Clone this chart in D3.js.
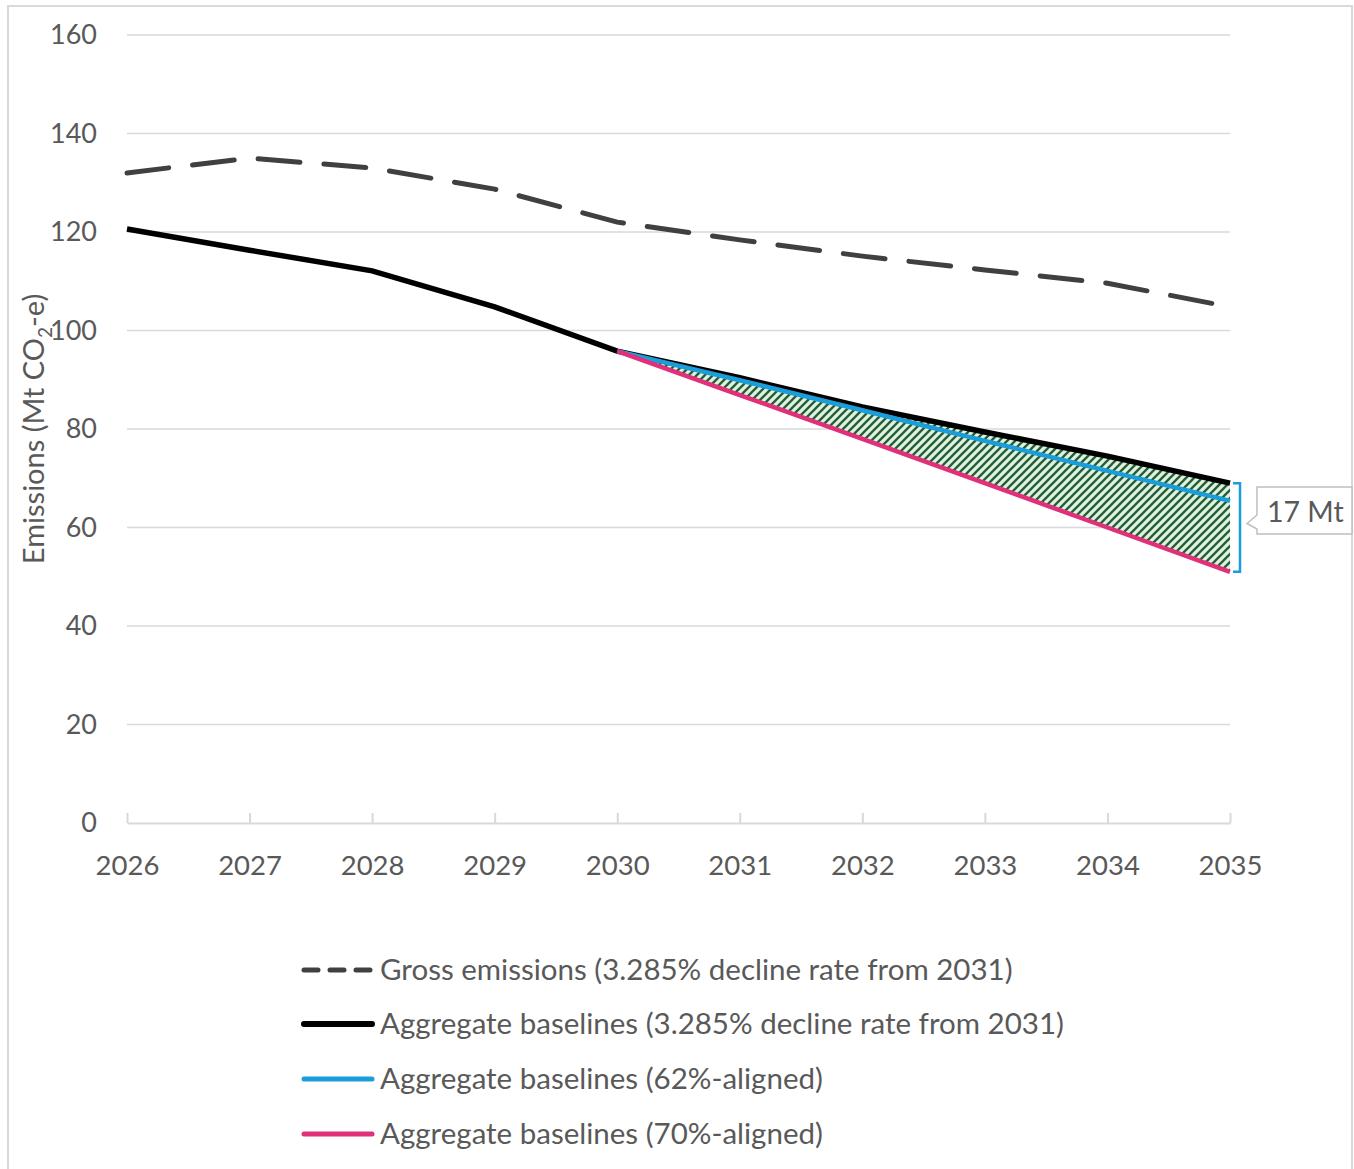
<html>
<head>
    <meta charset="utf-8">
    <title>Emissions</title>
    <script src="https://d3js.org/d3.v7.min.js"></script>
    <style>
        body { margin: 0; background: #fff; }
        text { font-family: Lato, "Open Sans", sans-serif; fill: #595959; }
    </style>
</head>
<body>
<script>
    // data
    var years = [2026, 2027, 2028, 2029, 2030, 2031, 2032, 2033, 2034, 2035];
    var gross = [132.0, 135.0, 133.0, 128.7, 122.0, 118.4, 115.1, 112.3, 109.6, 104.8];
    var baseline = [120.6, 116.3, 112.1, 104.8, 95.8, 90.4, 84.5, 79.4, 74.5, 69.0];
    var aligned62Years = [2030, 2031, 2032, 2033, 2034, 2035];
    var aligned62 = [95.8, 89.9, 83.8, 77.6, 71.5, 65.4];
    var aligned70Years = [2030, 2031, 2032, 2033, 2034, 2035];
    var aligned70 = [95.8, 86.9, 78.0, 69.0, 60.0, 51.0];
    var yTicks = [0, 20, 40, 60, 80, 100, 120, 140, 160];
    var gapLabel = "17 Mt";
    var legendLabels = [
        "Gross emissions (3.285% decline rate from 2031)",
        "Aggregate baselines (3.285% decline rate from 2031)",
        "Aggregate baselines (62%-aligned)",
        "Aggregate baselines (70%-aligned)"
    ];

    var width = 1354,
        height = 1169,
        gridColor = "#d9d9d9",
        grossColor = "#404040",
        baseColor = "#000000",
        blueColor = "#1b9dd9",
        pinkColor = "#e0307a";

    var svg = d3.select("body").append("svg")
        .attr("width", width)
        .attr("height", height);

    // outer frame
    svg.append("rect")
        .attr("x", 8).attr("y", 6)
        .attr("width", 1344).attr("height", 1180)
        .attr("fill", "none")
        .attr("stroke", gridColor)
        .attr("stroke-width", 2);

    var x = d3.scaleLinear().domain([2026, 2035]).range([127, 1230]);
    var y = d3.scaleLinear().domain([0, 160]).range([823, 35]);

    // hatch pattern
    var pat = svg.append("defs").append("pattern")
        .attr("id", "hatch")
        .attr("patternUnits", "userSpaceOnUse")
        .attr("width", 8).attr("height", 8);
    pat.append("rect").attr("width", 8).attr("height", 8).attr("fill", "#e0f0e2");
    pat.append("path")
        .attr("d", "M-2,2 L2,-2 M0,8 L8,0 M6,10 L10,6")
        .attr("stroke", "#225f34")
        .attr("stroke-width", 2.3);

    // gridlines
    svg.append("g").selectAll("line")
        .data(yTicks.filter(function (d) { return d > 0; }))
        .enter().append("line")
        .attr("x1", 127).attr("x2", 1230)
        .attr("y1", function (d) { return y(d); })
        .attr("y2", function (d) { return y(d); })
        .attr("stroke", gridColor)
        .attr("stroke-width", 1.5);

    // y axis labels
    var yAxis = svg.append("g")
        .attr("transform", "translate(97,0)")
        .call(d3.axisLeft(y).tickValues(yTicks).tickSize(0).tickPadding(0));
    yAxis.select(".domain").remove();
    yAxis.selectAll("text")
        .style("font-size", "27px")
        .style("font-family", "Lato, sans-serif")
        .attr("fill", "#595959");

    // x axis
    var xAxis = svg.append("g")
        .attr("transform", "translate(0," + y(0) + ")")
        .call(d3.axisBottom(x).tickValues(years).tickFormat(d3.format("d"))
            .tickSizeInner(-10).tickSizeOuter(0).tickPadding(32));
    xAxis.select(".domain").attr("stroke", gridColor).attr("stroke-width", 2);
    xAxis.selectAll(".tick line").attr("stroke", gridColor).attr("stroke-width", 2);
    xAxis.selectAll("text")
        .style("font-size", "27.5px")
        .style("font-family", "Lato, sans-serif")
        .attr("fill", "#595959");

    // y title
    var yTitle = svg.append("text")
        .attr("transform", "translate(44,429) rotate(-90)")
        .attr("text-anchor", "middle")
        .style("font-size", "29px");
    yTitle.append("tspan").text("Emissions (Mt CO");
    yTitle.append("tspan").text("2").style("font-size", "19px").attr("dy", 8);
    yTitle.append("tspan").text("-e)").attr("dy", -8);

    // shaded gap between baseline and 70%-aligned
    var gapData = aligned70Years.map(function (yr, i) {
        return { year: yr, lo: aligned70[i], hi: baseline[years.indexOf(yr)] };
    });
    svg.append("path")
        .datum(gapData)
        .attr("fill", "url(#hatch)")
        .attr("d", d3.area()
            .x(function (d) { return x(d.year); })
            .y0(function (d) { return y(d.lo); })
            .y1(function (d) { return y(d.hi); }));

    var line = d3.line()
        .x(function (d) { return x(d[0]); })
        .y(function (d) { return y(d[1]); });

    svg.append("path")
        .datum(d3.zip(years, gross))
        .attr("d", line)
        .attr("fill", "none")
        .attr("stroke", grossColor)
        .attr("stroke-width", 5)
        .attr("stroke-linecap", "round")
        .attr("stroke-dasharray", "42,24");

    svg.append("path")
        .datum(d3.zip(years, baseline))
        .attr("d", line)
        .attr("fill", "none")
        .attr("stroke", baseColor)
        .attr("stroke-width", 5.5);

    svg.append("path")
        .datum(d3.zip(aligned62Years, aligned62))
        .attr("d", line)
        .attr("fill", "none")
        .attr("stroke", blueColor)
        .attr("stroke-width", 4.5);

    svg.append("path")
        .datum(d3.zip(aligned70Years, aligned70))
        .attr("d", line)
        .attr("fill", "none")
        .attr("stroke", pinkColor)
        .attr("stroke-width", 4.5);

    // bracket for the gap
    var bx = x(2035) + 10,
        bTop = y(baseline[baseline.length - 1]),
        bBot = y(aligned70[aligned70.length - 1]);
    svg.append("path")
        .attr("d", "M" + (bx - 7) + "," + bTop + " H" + bx + " V" + bBot + " H" + (bx - 7))
        .attr("fill", "none")
        .attr("stroke", blueColor)
        .attr("stroke-width", 2.5);

    // callout
    var cy = (bTop + bBot) / 2;
    svg.append("path")
        .attr("d", "M1257,487 H1352 V534 H1257 V529 L1247," + (cy - 4) + " L1257,515 Z")
        .attr("fill", "#fff")
        .attr("stroke", "#bfbfbf")
        .attr("stroke-width", 1.5);
    svg.append("text")
        .attr("x", 1267).attr("y", 522)
        .style("font-size", "28.5px")
        .text(gapLabel);

    // legend
    var legend = svg.append("g").selectAll("g")
        .data(legendLabels)
        .enter().append("g")
        .attr("transform", function (d, i) { return "translate(0," + [970, 1024, 1079, 1134][i] + ")"; });
    var legendStyles = [
        { c: grossColor, dash: "14,12" },
        { c: baseColor, dash: null },
        { c: blueColor, dash: null },
        { c: pinkColor, dash: null }
    ];
    legend.append("line")
        .attr("x1", 304).attr("x2", 372)
        .attr("stroke", function (d, i) { return legendStyles[i].c; })
        .attr("stroke-width", function (d, i) { return i === 1 ? 6 : 5; })
        .attr("stroke-linecap", "round")
        .attr("stroke-dasharray", function (d, i) { return legendStyles[i].dash; });
    legend.append("text")
        .attr("x", 380).attr("dy", "0.35em")
        .style("font-size", "29.5px")
        .text(function (d) { return d; });
</script>
</body>
</html>
